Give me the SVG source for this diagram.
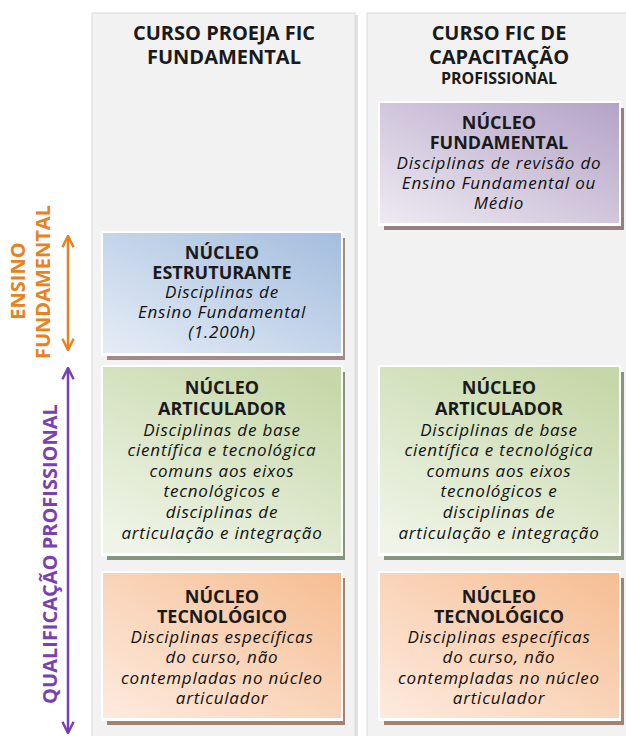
<svg xmlns="http://www.w3.org/2000/svg" width="626" height="736" viewBox="0 0 626 736">
<defs>
<style>
.panel{fill:#f2f2f2;stroke:#d9d9d9;stroke-width:1}
.hdr{font-family:"Open Sans","Liberation Sans",sans-serif;font-weight:700;font-size:20px;fill:#1a1a1a;text-anchor:middle}
.hdrs{font-size:16px}
.t{font-family:"Open Sans","Liberation Sans",sans-serif;font-weight:700;font-size:18px;fill:#1a1a1a;text-anchor:middle}
.i{font-family:"Open Sans","Liberation Sans",sans-serif;font-style:italic;font-size:17px;letter-spacing:0.8px;fill:#111111;text-anchor:middle}
.white{fill:#ffffff}
.lab{font-family:"Open Sans","Liberation Sans",sans-serif;font-weight:700;font-size:20px;text-anchor:middle}
</style>
<linearGradient id="gP" x1="0" y1="1" x2="1" y2="0"><stop offset="0" stop-color="#eeeaf2"/><stop offset="1" stop-color="#b4a3c7"/></linearGradient>
<linearGradient id="gB" x1="0" y1="1" x2="1" y2="0"><stop offset="0" stop-color="#e6ecf6"/><stop offset="1" stop-color="#a3bede"/></linearGradient>
<linearGradient id="gG" x1="0.2" y1="1" x2="0.8" y2="0"><stop offset="0" stop-color="#eff4e7"/><stop offset="1" stop-color="#c6d8a9"/></linearGradient>
<linearGradient id="gO" x1="0" y1="1" x2="1" y2="0"><stop offset="0" stop-color="#fdebdf"/><stop offset="1" stop-color="#f6bd92"/></linearGradient>
<marker id="aO" viewBox="0 0 10 10" refX="9" refY="5" markerWidth="14" markerHeight="14" markerUnits="userSpaceOnUse" orient="auto-start-reverse"><path d="M1,1 L9,5 L1,9" fill="none" stroke="#e8821e" stroke-width="1.8"/></marker>
<marker id="aV" viewBox="0 0 10 10" refX="9" refY="5" markerWidth="14" markerHeight="14" markerUnits="userSpaceOnUse" orient="auto-start-reverse"><path d="M1,1 L9,5 L1,9" fill="none" stroke="#7a3fb3" stroke-width="1.8"/></marker>
</defs>
<rect width="626" height="736" fill="#ffffff"/>

<g id="col-left">
<rect x="355" y="15" width="3" height="730" fill="#e2e2e2"/>
<rect class="panel" x="92" y="13" width="263" height="740"/>
<text class="hdr" x="224" y="40">CURSO PROEJA FIC</text>
<text class="hdr" x="224" y="64">FUNDAMENTAL</text>
</g>
<g id="col-right">
<rect class="panel" x="367" y="13" width="270" height="740"/>
<text class="hdr" x="499" y="40">CURSO FIC DE</text>
<text class="hdr" x="499" y="64">CAPACITAÇÃO</text>
<text class="hdr hdrs" x="499" y="84">PROFISSIONAL</text>
</g>

<g id="n-fundamental">
<rect x="384" y="108" width="240" height="122" fill="#9a7f82"/>
<rect class="white" x="378" y="101" width="243" height="125"/>
<rect x="380" y="103" width="239" height="120" fill="url(#gP)"/>
<text class="t" x="499" y="129">NÚCLEO</text>
<text class="t" x="499" y="149">FUNDAMENTAL</text>
<text class="i" x="499" y="169">Disciplinas de revisão do</text>
<text class="i" x="499" y="189">Ensino Fundamental ou</text>
<text class="i" x="499" y="209">Médio</text>
</g>

<g id="n-estruturante">
<rect x="107" y="238" width="238" height="122" fill="#a08a8c"/>
<rect class="white" x="101" y="231" width="242" height="125"/>
<rect x="103" y="233" width="238" height="120" fill="url(#gB)"/>
<text class="t" x="222" y="259">NÚCLEO</text>
<text class="t" x="222" y="279">ESTRUTURANTE</text>
<text class="i" x="222" y="298">Disciplinas de</text>
<text class="i" x="222" y="318">Ensino Fundamental</text>
<text class="i" x="222" y="338">(1.200h)</text>
</g>

<g id="n-articulador-1">
<rect x="107" y="372" width="238" height="188" fill="#86967c"/>
<rect class="white" x="101" y="365" width="242" height="191"/>
<rect x="103" y="367" width="238" height="186" fill="url(#gG)"/>
<text class="t" x="222" y="394">NÚCLEO</text>
<text class="t" x="222" y="415">ARTICULADOR</text>
<text class="i" x="222" y="436">Disciplinas de base</text>
<text class="i" x="222" y="456">científica e tecnológica</text>
<text class="i" x="222" y="477">comuns aos eixos</text>
<text class="i" x="222" y="497">tecnológicos e</text>
<text class="i" x="222" y="518">disciplinas de</text>
<text class="i" x="222" y="539">articulação e integração</text>
</g>

<g id="n-articulador-2">
<rect x="384" y="372" width="240" height="188" fill="#86967c"/>
<rect class="white" x="378" y="365" width="243" height="191"/>
<rect x="380" y="367" width="239" height="186" fill="url(#gG)"/>
<text class="t" x="499" y="394">NÚCLEO</text>
<text class="t" x="499" y="415">ARTICULADOR</text>
<text class="i" x="499" y="436">Disciplinas de base</text>
<text class="i" x="499" y="456">científica e tecnológica</text>
<text class="i" x="499" y="477">comuns aos eixos</text>
<text class="i" x="499" y="497">tecnológicos e</text>
<text class="i" x="499" y="518">disciplinas de</text>
<text class="i" x="499" y="539">articulação e integração</text>
</g>

<g id="n-tecnologico-1">
<rect x="107" y="578" width="238" height="147" fill="#a3826f"/>
<rect class="white" x="101" y="571" width="242" height="150"/>
<rect x="103" y="573" width="238" height="145" fill="url(#gO)"/>
<text class="t" x="222" y="603">NÚCLEO</text>
<text class="t" x="222" y="623">TECNOLÓGICO</text>
<text class="i" x="222" y="643">Disciplinas específicas</text>
<text class="i" x="222" y="663">do curso, não</text>
<text class="i" x="222" y="684">contempladas no núcleo</text>
<text class="i" x="222" y="704">articulador</text>
</g>

<g id="n-tecnologico-2">
<rect x="384" y="578" width="240" height="147" fill="#a3826f"/>
<rect class="white" x="378" y="571" width="243" height="150"/>
<rect x="380" y="573" width="239" height="145" fill="url(#gO)"/>
<text class="t" x="499" y="603">NÚCLEO</text>
<text class="t" x="499" y="623">TECNOLÓGICO</text>
<text class="i" x="499" y="643">Disciplinas específicas</text>
<text class="i" x="499" y="663">do curso, não</text>
<text class="i" x="499" y="684">contempladas no núcleo</text>
<text class="i" x="499" y="704">articulador</text>
</g>

<g id="label-ensino">
<text class="lab" fill="#e8821e" transform="translate(25,281) rotate(-90)">ENSINO</text>
<text class="lab" fill="#e8821e" transform="translate(50,282) rotate(-90)">FUNDAMENTAL</text>
</g>
<g id="label-qualificacao">
<text class="lab" fill="#7a3fb3" transform="translate(57,554) rotate(-90)">QUALIFICAÇÃO PROFISSIONAL</text>
</g>

<g id="connectors">
<line x1="68" y1="236" x2="68" y2="350" stroke="#e8821e" stroke-width="2.5" marker-start="url(#aO)" marker-end="url(#aO)"/>
<line x1="68" y1="368" x2="68" y2="733" stroke="#7a3fb3" stroke-width="2.5" marker-start="url(#aV)" marker-end="url(#aV)"/>
</g>
</svg>
